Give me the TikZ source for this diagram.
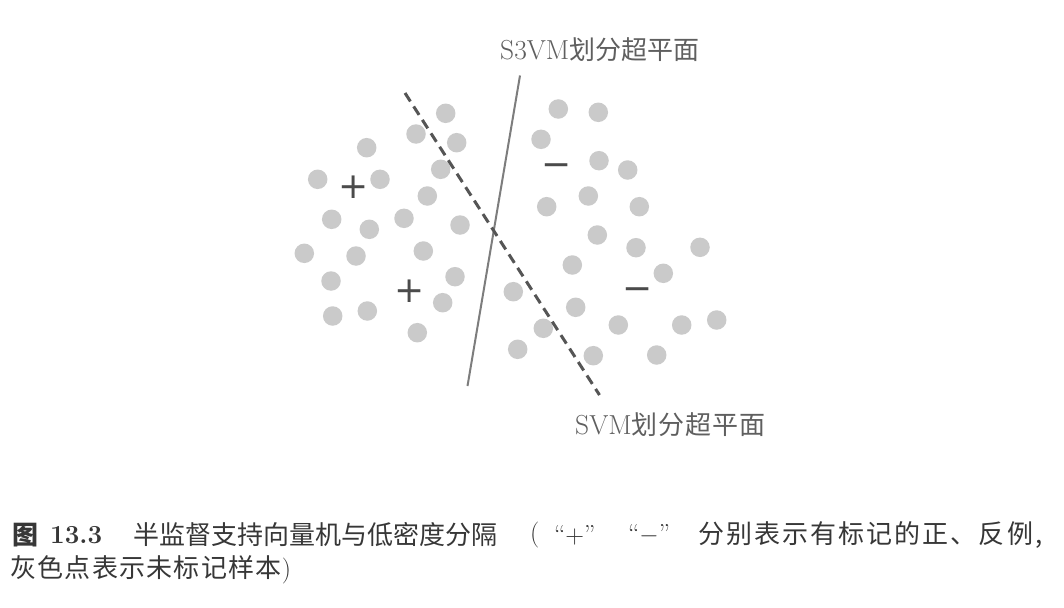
\documentclass[tikz,border=0pt]{standalone}
\usepackage{fontspec}
\newfontfamily\cjk{Noto Sans CJK SC}
\newfontfamily\dvs{DejaVu Sans}
\definecolor{dotgray}{RGB}{202,202,202}
\definecolor{signgray}{RGB}{75,75,75}
\definecolor{labgray}{RGB}{95,95,95}
\definecolor{capgray}{RGB}{55,55,55}
\definecolor{solidgray}{RGB}{125,125,125}
\definecolor{dashgray}{RGB}{85,85,85}
\begin{document}
\begin{tikzpicture}[x=1pt,y=-1pt,
  ptdot/.style={circle,fill=dotgray,inner sep=0pt,minimum size=19.5pt},
  signtext/.style={inner sep=0pt,text=signgray,font=\dvs\fontsize{36}{36}\selectfont},
  labtext/.style={inner sep=0pt,anchor=west,text=labgray,font=\fontsize{27.5}{30}\selectfont},
  captext/.style={inner sep=0pt,anchor=west,text=capgray,font=\fontsize{26}{30}\selectfont},
  s3vmline/.style={draw=solidgray,line width=2pt},
  svmline/.style={draw=dashgray,line width=3pt,dash pattern=on 10pt off 6pt}]
\useasboundingbox (0,0) rectangle (1064,607);
\fill[white] (0,0) rectangle (1064,607);
% unlabeled points
\foreach \p [count=\i] in {(445.7,113.3),(416,134),(456.7,142.7),(366.7,147.7),(440.7,169.3),(317.7,179.3),(380,179.3),(427.3,196),(331.7,219.3),(404,218.3),(369.3,229.3),(460,225),(304.3,253.3),(356,256),(423.3,251),(455,276.7),(331,281),(442.7,302.7),(332.7,316),(367.3,311),(417.3,332.7),
(558.3,109),(598.3,112.3),(541,139.3),(599,160.7),(627.7,170),(546.7,206.7),(588.3,196),(639.3,206.7),(597.3,235),(636,247.7),(700,247.3),(572.3,265),(663.3,273.3),(513.3,291.7),(575.7,307.3),(543.3,328.3),(618.3,325),(681.7,325),(716.7,320),(517.7,349.3),(593.3,355.7),(656.7,355)}
  \node[ptdot] (d\i) at \p {};
% labeled points
\node[signtext] (p1) at (354,187.5) {+};
\node[signtext] (p2) at (410,291) {+};
\node[signtext] (m1) at (556.7,170) {−};
\node[signtext] (m2) at (637.7,294.3) {−};
% separators
\coordinate (s3top) at (520,75.5);
\coordinate (s3bot) at (467.5,386);
\coordinate (svtop) at (405,93);
\coordinate (svbot) at (599.5,395);
\draw[s3vmline] (s3top) -- (s3bot);
\draw[svmline] (svtop) -- (svbot);
% labels
\node[labtext] (ls3) at (500,50) {S3VM{\cjk\fontsize{26}{30}\selectfont 划分超平面}};
\node[labtext] (lsv) at (575,425) {SVM{\cjk\fontsize{26}{30}\selectfont\addfontfeature{LetterSpace=4} 划分超平面}};
% caption
\node[captext] (c1) at (12,535) {{\cjk\bfseries 图}};
\node[captext] (c2) at (50,535) {\bfseries 13.3};
\node[captext] (c3) at (133,535) {{\cjk 半监督支持向量机与低密度分隔}};
\node[captext] (c4) at (530,535) {(};
\node[captext] (c5) at (554,535) {``+''};
\node[captext] (c6) at (628,535) {``$-$''};
\node[captext] (c7) at (698,535) {{\cjk\addfontfeature{LetterSpace=8} 分别表示有标记的正、反例,}};
\node[captext] (c8) at (10,570) {{\cjk\addfontfeature{LetterSpace=5} 灰色点表示未标记样本})};
\end{tikzpicture}
\end{document}
